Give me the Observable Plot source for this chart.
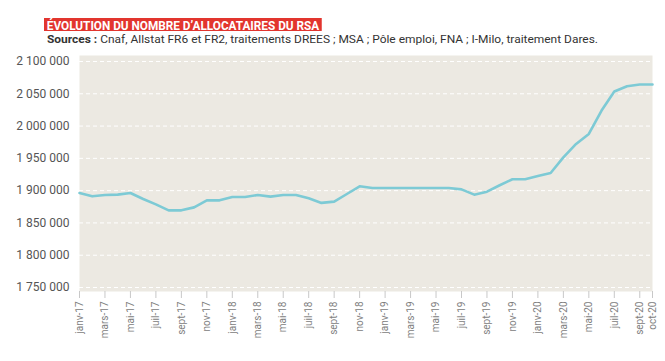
<!DOCTYPE html>
<html>
<head>
<meta charset="utf-8">
<script src="https://cdn.jsdelivr.net/npm/d3@7"></script>
<script src="https://cdn.jsdelivr.net/npm/@observablehq/plot@0.6"></script>
<style>
  html, body { margin: 0; padding: 0; background: #ffffff; }
  #wrap { width: 665px; height: 361px; position: relative; overflow: hidden; }
  #header { position: relative; height: 50px; }
  #title { position: absolute; left: 44px; top: 17.5px; height: 13.5px; line-height: 13.5px;
    background: #E2352E; color: #fff; font: bold 12.5px Roboto, sans-serif; padding: 0 3px;
    white-space: nowrap; transform-origin: 0 0; }
  #subtitle { position: absolute; left: 46.5px; top: 32.5px; line-height: 12px;
    font: 11px Roboto, sans-serif; color: #333; white-space: nowrap; transform-origin: 0 0; }
  #subtitle b { font-weight: bold; }
  svg { display: block; }
</style>
</head>
<body>
<div id="wrap">
  <div id="header">
    <div id="title">ÉVOLUTION DU NOMBRE D’ALLOCATAIRES DU RSA</div>
    <div id="subtitle"><b>Sources :</b> Cnaf, Allstat FR6 et FR2, traitements DREES ; MSA ; Pôle emploi, FNA ; I-Milo, traitement Dares.</div>
  </div>
  <div id="chart"></div>
</div>
<script>
const months = [
  "janv-17","févr-17","mars-17","avr-17","mai-17","juin-17","juil-17","août-17","sept-17","oct-17","nov-17","déc-17",
  "janv-18","févr-18","mars-18","avr-18","mai-18","juin-18","juil-18","août-18","sept-18","oct-18","nov-18","déc-18",
  "janv-19","févr-19","mars-19","avr-19","mai-19","juin-19","juil-19","août-19","sept-19","oct-19","nov-19","déc-19",
  "janv-20","févr-20","mars-20","avr-20","mai-20","juin-20","juil-20","août-20","sept-20","oct-20"
];
const allocataires = [
  1896400, 1891200, 1893300, 1893800, 1896400, 1887000, 1878800, 1869500, 1869500, 1874100, 1885000, 1885000,
  1890200, 1890200, 1893300, 1890700, 1893300, 1893300, 1888100, 1881000, 1883000, 1894800, 1906700, 1904100,
  1904100, 1904100, 1904100, 1904100, 1904100, 1904100, 1902000, 1893800, 1898400, 1908300, 1917600, 1917600,
  1922700, 1927400, 1951600, 1972300, 1987800, 2024000, 2053500, 2061700, 2064300, 2064300
];
const xTicks = [
  "janv-17","mars-17","mai-17","juil-17","sept-17","nov-17",
  "janv-18","mars-18","mai-18","juil-18","sept-18","nov-18",
  "janv-19","mars-19","mai-19","juil-19","sept-19","nov-19",
  "janv-20","mars-20","mai-20","juil-20","sept-20","oct-20"
];
const yTicks = [1750000, 1800000, 1850000, 1900000, 1950000, 2000000, 2050000, 2100000];

const data = months.map((m, i) => ({month: m, value: allocataires[i]}));
const fmt = d3.formatLocale({thousands: " ", grouping: [3], decimal: ",", currency: ["", " €"]}).format(",d");

const chart = Plot.plot({
  width: 665,
  height: 311,
  marginLeft: 79,
  marginRight: 13,
  marginTop: 5,
  marginBottom: 70,
  insetTop: 6,
  insetBottom: 4,
  style: {background: "transparent", fontFamily: "Roboto, sans-serif"},
  x: {type: "point", domain: months, padding: 0, label: null},
  y: {domain: [1750000, 2100000], label: null},
  marks: [
    Plot.frame({fill: "#ECE9E2", stroke: null}),
    Plot.gridY(yTicks, {stroke: "#ffffff", strokeOpacity: 1, strokeWidth: 1, strokeDasharray: "4,3"}),
    Plot.axisY(yTicks, {tickSize: 0, tickPadding: 10, tickFormat: fmt, fontSize: 12, fill: "#555", label: null}),
    Plot.axisX(xTicks, {tickSize: 7, tickPadding: 3, tickRotate: -90, fontSize: 10, fill: "#808080", stroke: "#c8c8c8", label: null}),
    Plot.line(data, {x: "month", y: "value", stroke: "#7DCAD5", strokeWidth: 2.6, curve: "linear"})
  ]
});
document.getElementById("chart").appendChild(chart);

function fitWidth(el, target) {
  const w = el.getBoundingClientRect().width;
  if (w > 0) el.style.transform = `scaleX(${target / w})`;
}
fitWidth(document.getElementById("title"), 278);
fitWidth(document.getElementById("subtitle"), 551);
</script>
</body>
</html>
